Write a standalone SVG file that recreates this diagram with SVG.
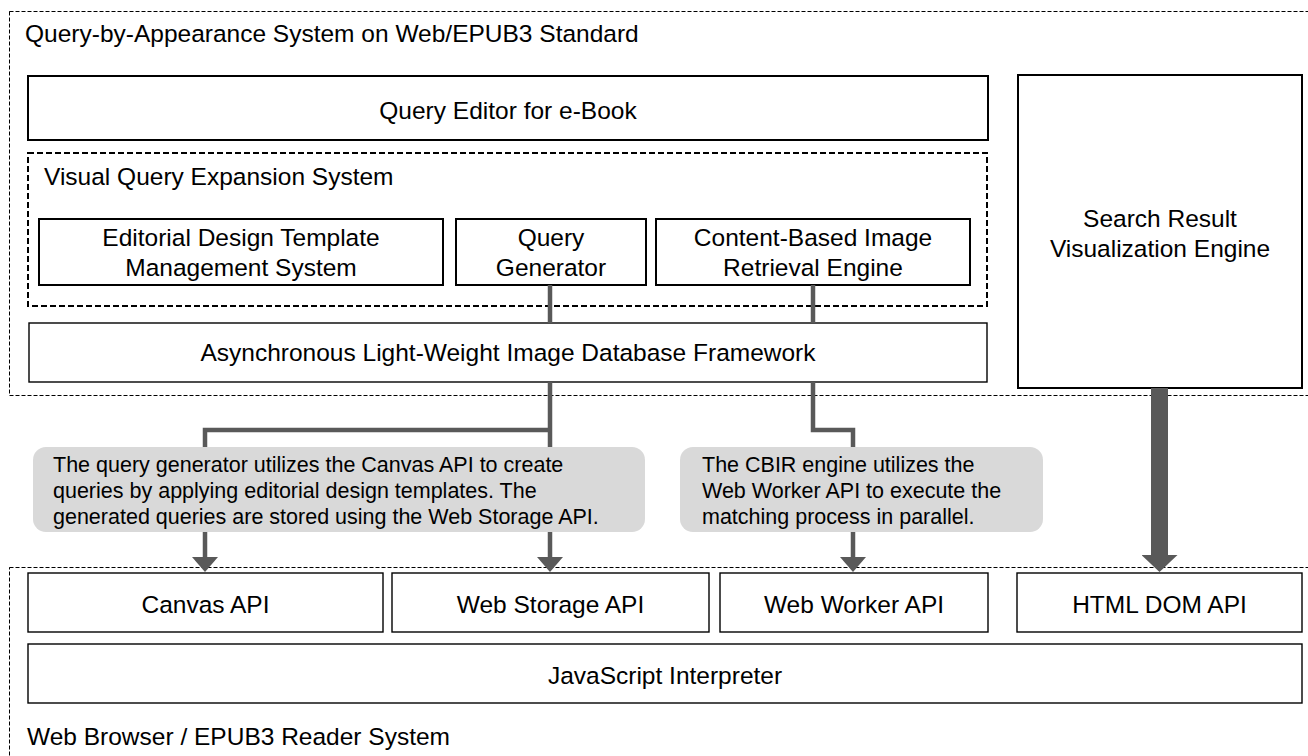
<svg xmlns="http://www.w3.org/2000/svg" width="1308" height="756" viewBox="0 0 1308 756">
  <style>
    text { font-family: "Liberation Sans", Arial, sans-serif; fill: #000; }
    .lbl { font-size: 24.5px; }
    .mid { text-anchor: middle; }
    .note { font-size: 21.5px; }
    .frame { fill: none; stroke: #000; stroke-width: 1; stroke-dasharray: 4 2; }
    .subframe { fill: none; stroke: #000; stroke-width: 2; stroke-dasharray: 6 3; }
    .box { fill: #fff; stroke: #000; stroke-width: 2; }
    .box-thin { fill: #fff; stroke: #000; stroke-width: 1.4; }
    .wire { fill: none; stroke: #595959; stroke-width: 4.5; }
    .bus { fill: none; stroke: #595959; stroke-width: 17; }
    .callout { fill: #d9d9d9; }
  </style>
  <defs>
    <marker id="head" markerUnits="userSpaceOnUse" viewBox="0 0 15 26" refX="0" refY="13" markerWidth="15" markerHeight="26" orient="auto">
      <path d="M0,0 L15,13 L0,26 Z" fill="#595959"/>
    </marker>
    <marker id="head-wide" markerUnits="userSpaceOnUse" viewBox="0 0 17 36" refX="0" refY="18" markerWidth="17" markerHeight="36" orient="auto">
      <path d="M0,0 L17,18 L0,36 Z" fill="#595959"/>
    </marker>
  </defs>

  <rect width="1308" height="756" fill="#fff"/>

  <!-- upper layer: application system -->
  <g id="qba-system">
    <rect class="frame" x="9.5" y="11.5" width="1310" height="384"/>
    <text class="lbl" x="25" y="42">Query-by-Appearance System on Web/EPUB3 Standard</text>
  </g>

  <g id="query-editor">
    <rect class="box" x="28" y="76" width="960" height="64"/>
    <text class="lbl mid" x="508" y="119">Query Editor for e-Book</text>
  </g>

  <g id="vqe-system">
    <rect class="subframe" x="28" y="153" width="959" height="153"/>
    <text class="lbl" x="44" y="185">Visual Query Expansion System</text>
  </g>

  <g id="template-mgmt">
    <rect class="box" x="39" y="219" width="404" height="66"/>
    <text class="lbl mid" x="241" y="246">Editorial Design Template</text>
    <text class="lbl mid" x="241" y="276">Management System</text>
  </g>

  <g id="query-generator">
    <rect class="box" x="456" y="219" width="190" height="66"/>
    <text class="lbl mid" x="551" y="246">Query</text>
    <text class="lbl mid" x="551" y="276">Generator</text>
  </g>

  <g id="cbir-engine">
    <rect class="box" x="656" y="219" width="314" height="66"/>
    <text class="lbl mid" x="813" y="246">Content-Based Image</text>
    <text class="lbl mid" x="813" y="276">Retrieval Engine</text>
  </g>

  <g id="image-db">
    <rect class="box-thin" x="29" y="323" width="958" height="59"/>
    <text class="lbl mid" x="508" y="361">Asynchronous Light-Weight Image Database Framework</text>
  </g>

  <g id="result-viz">
    <rect class="box" x="1018" y="75" width="284" height="313"/>
    <text class="lbl mid" x="1160" y="227">Search Result</text>
    <text class="lbl mid" x="1160" y="257">Visualization Engine</text>
  </g>

  <!-- lower layer: browser platform -->
  <g id="browser-system">
    <rect class="frame" x="9.5" y="567.5" width="1310" height="200"/>
    <text class="lbl" x="27" y="745">Web Browser / EPUB3 Reader System</text>
  </g>

  <g id="canvas-api">
    <rect class="box-thin" x="28" y="573" width="355" height="59"/>
    <text class="lbl mid" x="205.5" y="613">Canvas API</text>
  </g>

  <g id="storage-api">
    <rect class="box-thin" x="392" y="573" width="317" height="59"/>
    <text class="lbl mid" x="550.5" y="613">Web Storage API</text>
  </g>

  <g id="worker-api">
    <rect class="box-thin" x="720" y="573" width="268" height="59"/>
    <text class="lbl mid" x="854" y="613">Web Worker API</text>
  </g>

  <g id="dom-api">
    <rect class="box-thin" x="1017" y="573" width="285" height="59"/>
    <text class="lbl mid" x="1159.5" y="613">HTML DOM API</text>
  </g>

  <g id="js-interpreter">
    <rect class="box-thin" x="28" y="644" width="1274" height="59"/>
    <text class="lbl mid" x="665" y="684">JavaScript Interpreter</text>
  </g>

  <!-- connectors -->
  <g id="connectors">
    <path class="wire" d="M550,285 V323"/>
    <path class="wire" d="M813,285 V323"/>
    <path class="wire" d="M550,382 V557" marker-end="url(#head)"/>
    <path class="wire" d="M550,430 H205 V557" marker-end="url(#head)"/>
    <path class="wire" d="M813,382 V430 H853 V557" marker-end="url(#head)"/>
    <path class="bus" d="M1159.5,388 V555" marker-end="url(#head-wide)"/>
  </g>

  <!-- annotations -->
  <g id="note-canvas-storage">
    <rect class="callout" x="33" y="447" width="612" height="85" rx="13"/>
    <text class="note" x="53" y="472">The query generator utilizes the Canvas API to create</text>
    <text class="note" x="53" y="498">queries by applying editorial design templates. The</text>
    <text class="note" x="53" y="524">generated queries are stored using the Web Storage API.</text>
  </g>

  <g id="note-worker">
    <rect class="callout" x="680" y="447" width="363" height="85" rx="13"/>
    <text class="note" x="702" y="472">The CBIR engine utilizes the</text>
    <text class="note" x="702" y="498">Web Worker API to execute the</text>
    <text class="note" x="702" y="524">matching process in parallel.</text>
  </g>
</svg>
